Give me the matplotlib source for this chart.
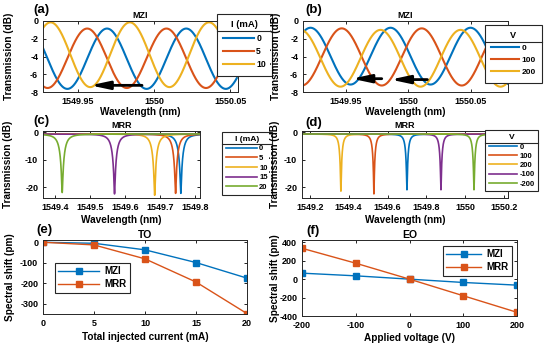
import numpy as np
import matplotlib
matplotlib.use('Agg')
import matplotlib.pyplot as plt

plt.rcParams['font.family'] = ['Liberation Sans', 'DejaVu Sans']
plt.rcParams['font.weight'] = 'bold'
plt.rcParams['axes.labelweight'] = 'bold'
plt.rcParams['axes.titleweight'] = 'bold'
plt.rcParams['axes.linewidth'] = 0.7
plt.rcParams['axes.edgecolor'] = '#262626'
plt.rcParams['xtick.direction'] = 'in'
plt.rcParams['ytick.direction'] = 'in'
plt.rcParams['xtick.top'] = True
plt.rcParams['ytick.right'] = True
plt.rcParams['xtick.major.size'] = 2
plt.rcParams['ytick.major.size'] = 2
plt.rcParams['xtick.major.width'] = 0.6
plt.rcParams['ytick.major.width'] = 0.6
plt.rcParams['xtick.labelsize'] = 6.5
plt.rcParams['ytick.labelsize'] = 6.5
plt.rcParams['axes.unicode_minus'] = False

colors = ['#0072BD', '#D95319', '#EDB120', '#7E2F8E', '#77AC30']

# (a) MZI, thermo-optic: first dip, max and min transmission (dB)
a_labels = ['0', '5', '10']
a_dip = [1549.943, 1549.930, 1549.958]
a_max = [-0.85, -0.85, -0.15]
a_min = [-7.65, -7.55, -7.45]
a_fsr = 0.052
a_arrows = [(1549.992, 1549.958, -7.25)]

# (b) MZI, electro-optic
b_labels = ['0', '100', '200']
b_dip = [1549.954, 1549.979, 1549.946]
b_max = [-0.76, -0.83, -1.0]
b_min = [-7.16, -7.27, -7.4]
b_fsr = 0.064
b_arrows = [(1549.979, 1549.955, -6.5), (1550.0155, 1549.986, -6.6)]

# (c) MRR, thermo-optic: resonance wavelength and depth (dB)
c_labels = ['0', '5', '10', '15', '20']
c_dip = [1549.760, 1549.745, 1549.685, 1549.570, 1549.420]
c_depth = [-22.3, -22.3, -23.0, -22.5, -22.0]

# (d) MRR, electro-optic
d_labels = ['0', '100', '200', '-100', '-200']
d_dip = [1549.700, 1549.530, 1549.360, 1549.875, 1550.045]
d_depth = [-21.0, -22.5, -21.5, -21.0, -21.0]

mrr_base = -0.6
mrr_width = 0.028

# (e) TO shift (pm) vs current (mA)
e_current = [0, 5, 10, 15, 20]
e_mzi = [0, -5, -37, -99, -175]
e_mrr = [0, -13, -81, -194, -348]

# (f) EO shift (pm) vs voltage (V)
f_voltage = [-200, -100, 0, 100, 200]
f_mzi = [65, 36, 0, -36, -65]
f_mrr = [335, 173, 0, -180, -360]


def mzi_curve(wl, dip, tmax, tmin, fsr):
    mid = (tmax + tmin) / 2
    amp = (tmax - tmin) / 2
    return mid - amp * np.cos(2 * np.pi * (wl - dip) / fsr)


def mrr_curve(wl, dip, depth):
    a = 1 - 10 ** ((depth - mrr_base) / 10)
    t = 1 - a / (1 + (2 * (wl - dip) / mrr_width) ** 2)
    return 10 * np.log10(t) + mrr_base


W, H = 550, 348
fig = plt.figure(figsize=(5.5, 3.48), dpi=100)


def add_ax(x0, y0, x1, y1):
    return fig.add_axes([x0 / W, 1 - y1 / H, (x1 - x0) / W, (y1 - y0) / H])


def box_legend(ax, title, x, y, fs, hl, bp, ls):
    leg = ax.legend(title=title, loc='upper left', bbox_to_anchor=(x / W, 1 - y / H),
                    bbox_transform=fig.transFigure, borderaxespad=0, fancybox=False,
                    edgecolor='#262626', framealpha=1, fontsize=fs, handlelength=hl,
                    handletextpad=0.3, labelspacing=ls, borderpad=bp,
                    title_fontproperties={'weight': 'bold', 'size': fs + 0.6})
    leg.get_frame().set_linewidth(0.8)
    return leg


def separators(legs):
    fig.canvas.draw()
    inv = fig.transFigure.inverted()
    for leg in legs:
        fb = leg.get_frame().get_window_extent()
        tb = leg.get_title().get_window_extent()
        yline = tb.y0 - 1.5
        (x0, yl), (x1, _) = inv.transform([(fb.x0, yline), (fb.x1, yline)])
        fig.add_artist(plt.Line2D([x0, x1], [yl, yl], color='#262626', lw=0.8,
                                  transform=fig.transFigure))


def arrow(ax, x0, x1, yy):
    ax.annotate('', xy=(x1, yy), xytext=(x0, yy),
                arrowprops=dict(arrowstyle='-|>,head_length=1.4,head_width=0.3',
                                color='k', lw=2.0, mutation_scale=8, shrinkA=0, shrinkB=0))


panel_fs = 9.5
label_fs = 7.2
title_fs = 6.5

# ---- (a)
ax = add_ax(43, 21, 238, 92)
wl = np.linspace(1549.927, 1550.055, 1500)
for i in range(len(a_labels)):
    ax.plot(wl, mzi_curve(wl, a_dip[i], a_max[i], a_min[i], a_fsr), color=colors[i],
            lw=1.5, label=a_labels[i])
for x0, x1, yy in a_arrows:
    arrow(ax, x0, x1, yy)
ax.set_xlim(1549.927, 1550.055)
ax.set_ylim(-8, 0)
ax.set_xticks([1549.95, 1550, 1550.05])
ax.set_xticklabels(['1549.95', '1550', '1550.05'])
ax.set_yticks([0, -2, -4, -6, -8])
ax.set_title('MZI', fontsize=title_fs, pad=2)
ax.set_xlabel('Wavelength (nm)', fontsize=label_fs)
ax.set_ylabel('Transmission (dB)', fontsize=label_fs)
ax.xaxis.set_label_coords(0.5, -0.21)
ax.yaxis.set_label_coords(-0.15, 0.5)
leg_a = box_legend(ax, 'I (mA)', 217, 14, 6.2, 3.5, 0.75, 0.5)
fig.text(33 / W, 1 - 10.5 / H, '(a)', fontsize=panel_fs, va='center')

# ---- (b)
ax = add_ax(303, 21, 508, 92)
wl = np.linspace(1549.916, 1550.08, 1500)
for i in range(len(b_labels)):
    ax.plot(wl, mzi_curve(wl, b_dip[i], b_max[i], b_min[i], b_fsr), color=colors[i],
            lw=1.5, label=b_labels[i])
for x0, x1, yy in b_arrows:
    arrow(ax, x0, x1, yy)
ax.set_xlim(1549.916, 1550.08)
ax.set_ylim(-8, 0)
ax.set_xticks([1549.95, 1550, 1550.05])
ax.set_xticklabels(['1549.95', '1550', '1550.05'])
ax.set_yticks([0, -2, -4, -6, -8])
ax.set_title('MZI', fontsize=title_fs, pad=2)
ax.set_xlabel('Wavelength (nm)', fontsize=label_fs)
ax.set_ylabel('Transmission (dB)', fontsize=label_fs)
ax.xaxis.set_label_coords(0.5, -0.21)
ax.yaxis.set_label_coords(-0.105, 0.5)
leg_b = box_legend(ax, 'V', 485, 25, 6.0, 3.3, 0.75, 0.5)
fig.text(305 / W, 1 - 10 / H, '(b)', fontsize=panel_fs, va='center')

# ---- (c)
ax = add_ax(43, 131, 200, 198)
wl = np.linspace(1549.365, 1549.815, 6000)
for i in range(len(c_labels)):
    ax.plot(wl, mrr_curve(wl, c_dip[i], c_depth[i]), color=colors[i], lw=1.2,
            label=c_labels[i])
ax.set_xlim(1549.365, 1549.815)
ax.set_ylim(-24, 0.5)
ax.set_xticks([1549.4, 1549.5, 1549.6, 1549.7, 1549.8])
ax.set_xticklabels(['1549.4', '1549.5', '1549.6', '1549.7', '1549.8'])
ax.set_yticks([0, -10, -20])
ax.set_title('MRR', fontsize=title_fs, pad=2)
ax.set_xlabel('Wavelength (nm)', fontsize=label_fs)
ax.set_ylabel('Transmission (dB)', fontsize=label_fs)
ax.xaxis.set_label_coords(0.5, -0.25)
ax.yaxis.set_label_coords(-0.19, 0.5)
leg_c = box_legend(ax, 'I (mA)', 222, 131.5, 5.5, 4.0, 0.55, 0.3)
fig.text(33 / W, 1 - 121 / H, '(c)', fontsize=panel_fs, va='center')

# ---- (d)
ax = add_ax(302, 131, 508, 198)
wl = np.linspace(1549.16, 1550.22, 8000)
for i in range(len(d_labels)):
    ax.plot(wl, mrr_curve(wl, d_dip[i], d_depth[i]), color=colors[i], lw=1.2,
            label=d_labels[i])
ax.set_xlim(1549.16, 1550.22)
ax.set_ylim(-24, 0.5)
ax.set_xticks([1549.2, 1549.4, 1549.6, 1549.8, 1550, 1550.2])
ax.set_xticklabels(['1549.2', '1549.4', '1549.6', '1549.8', '1550', '1550.2'])
ax.set_yticks([0, -10, -20])
ax.set_title('MRR', fontsize=title_fs, pad=2)
ax.set_xlabel('Wavelength (nm)', fontsize=label_fs)
ax.set_ylabel('Transmission (dB)', fontsize=label_fs)
ax.xaxis.set_label_coords(0.5, -0.25)
ax.yaxis.set_label_coords(-0.105, 0.5)
leg_d = box_legend(ax, 'V', 485, 130.5, 5.5, 3.7, 0.5, 0.25)
fig.text(305 / W, 1 - 123 / H, '(d)', fontsize=panel_fs, va='center')

# ---- (e)
ax = add_ax(43, 240, 247, 314)
ax.plot(e_current, e_mzi, color=colors[0], lw=1, marker='s', ms=5, label='MZI')
ax.plot(e_current, e_mrr, color=colors[1], lw=1, marker='s', ms=5, label='MRR')
ax.set_xlim(0, 20)
ax.set_ylim(-350, 11)
ax.set_xticks([0, 5, 10, 15, 20])
ax.set_yticks([0, -100, -200, -300])
ax.set_title('TO', fontsize=7.5, pad=1.5)
ax.set_xlabel('Total injected current (mA)', fontsize=label_fs)
ax.set_ylabel('Spectral shift (pm)', fontsize=label_fs)
ax.xaxis.set_label_coords(0.5, -0.25)
ax.yaxis.set_label_coords(-0.135, 0.5)
leg = ax.legend(loc='upper left', bbox_to_anchor=(55 / W, 1 - 263 / H),
                bbox_transform=fig.transFigure, borderaxespad=0, fancybox=False,
                edgecolor='#262626', framealpha=1, fontsize=7, handlelength=4.2,
                handletextpad=0.5, labelspacing=0.3, borderpad=0.35)
leg.get_frame().set_linewidth(0.8)
fig.text(36 / W, 1 - 230 / H, '(e)', fontsize=panel_fs, va='center')

# ---- (f)
ax = add_ax(302, 240, 517, 316)
ax.plot(f_voltage, f_mzi, color=colors[0], lw=1, marker='s', ms=5, label='MZI')
ax.plot(f_voltage, f_mrr, color=colors[1], lw=1, marker='s', ms=5, label='MRR')
ax.set_xlim(-200, 200)
ax.set_ylim(-400, 425)
ax.set_xticks([-200, -100, 0, 100, 200])
ax.set_yticks([-400, -200, 0, 200, 400])
ax.set_title('EO', fontsize=7.5, pad=1.5)
ax.set_xlabel('Applied voltage (V)', fontsize=label_fs)
ax.set_ylabel('Spectral shift (pm)', fontsize=label_fs)
ax.xaxis.set_label_coords(0.5, -0.22)
ax.yaxis.set_label_coords(-0.1, 0.5)
leg = ax.legend(loc='upper left', bbox_to_anchor=(443 / W, 1 - 246 / H),
                bbox_transform=fig.transFigure, borderaxespad=0, fancybox=False,
                edgecolor='#262626', framealpha=1, fontsize=7, handlelength=3.6,
                handletextpad=0.5, labelspacing=0.3, borderpad=0.35)
leg.get_frame().set_linewidth(0.8)
fig.text(306 / W, 1 - 231 / H, '(f)', fontsize=panel_fs, va='center')

separators([leg_a, leg_b, leg_c, leg_d])

fig.savefig('out.png', dpi=100)
